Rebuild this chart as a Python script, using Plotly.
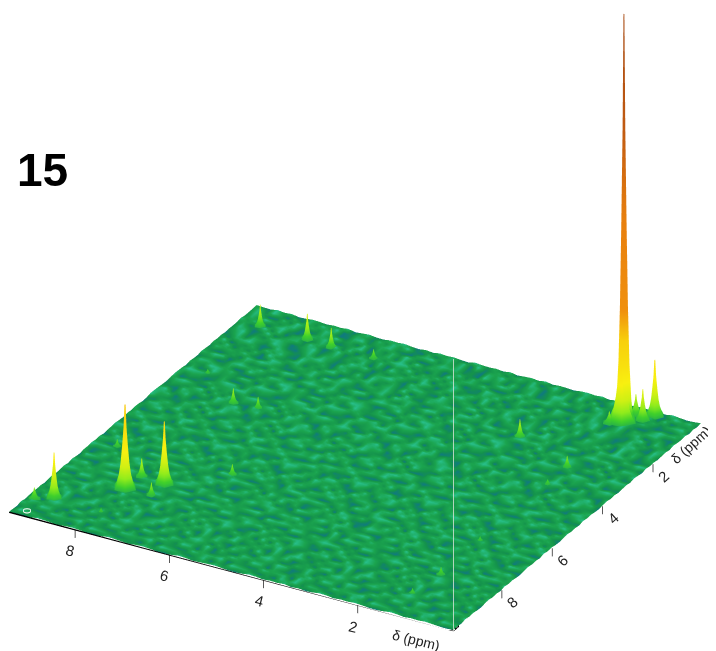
import numpy as np
import plotly.graph_objects as go

# Peak table: position (ppm, ppm), height (% of tallest), base radius (ppm)
peak_x = [9.25, 8.95, 8.00, 7.95, 7.44, 7.45, 6.53, 8.93, 7.90, 7.40, 8.95, 7.94, 7.40, 6.50, 8.88,
          2.64, 1.29, 1.27, 1.27, 1.25, 1.34, 7.92, 1.31, 1.30, 1.47, 1.20, 0.99, 0.88]
peak_y = [9.20, 8.98, 7.94, 7.37, 7.94, 7.41, 6.43, 6.51, 3.83, 3.78, 0.80, 0.82, 0.88, 0.88, 3.01,
          2.29, 2.94, 3.75, 6.43, 8.02, 8.98, 9.04, 0.74, 0.67, 0.93, 0.38, 0.50, 0.23]
peak_h = [2.7, 11.1, 20.5, 4.4, 3.0, 15.3, 2.5, 1.7, 3.5, 2.7, 5.2, 6.2, 4.7, 2.2, 1.0,
          4.2, 2.7, 1.2, 1.0, 1.7, 1.2, 1.0, 19.3, 100.0, 2.7, 4.9, 7.4, 13.6]
peak_r = [0.13, 0.17, 0.23, 0.13, 0.11, 0.20, 0.11, 0.09, 0.11, 0.10, 0.12, 0.13, 0.12, 0.10, 0.08,
          0.12, 0.11, 0.09, 0.08, 0.10, 0.09, 0.07, 0.30, 0.20, 0.14, 0.15, 0.16, 0.19]

# Cross-section of a peak: height fraction at each fraction of its base radius
profile_r = [0.05, 0.14, 0.28, 0.42, 0.58, 0.78, 1.0]
profile_h = [1.0, 0.72, 0.48, 0.28, 0.14, 0.05, 0.0]
# Angles of the faceted cross-section (degrees)
facet_deg = [0, 58, 118, 181, 239, 301, 360]

tick_vals = [2, 4, 6, 8]
tick_text = ["2", "4", "6", "8"]
axis_title = "δ (ppm)"
panel_label = "15"
x_range = [-0.03, 9.40]
y_range = [0.10, 9.92]
z_range = [-8, 100]

# Speckled floor heights (tenths of a height unit per digit), estimated by eye
floor_rows = [
"7204918365027194860351927408163590274816039571284093615720849136",
"1859302764918305726194083752641908375160294837156209483716059284",
"6340817259364081927350681429570318462975013864297105836492710583",
"0975264183705926418930752816490327685104937260815394720186359472",
"8412037596128406395721840695137284056392817450963128574039612748",
"3769510482937561024876395102847639150428973615082947316508294163",
"5028746193058274691305827469130582746193508267419305827641930582",
"9163085274196380572941630857214936085724916083527419630587241963",
"2480961357284906135278406193752840691375240869315728401693572840",
"7615382049716532804916753280497163258049761325804976135820497615",
"4902875136409278516304928715634902785163490827516349028571634092",
"1836490725813640927518634097215863409275186430972518634907251836",
"6517290384651729038465172903486571290384651792038465179203846571",
"3204796815320749681532074698135204769185302476918530247968153024",
"8957123640895173264085971326408951723640895172364089571326408957",
"0431586972043158697204315869270413586972041385697204138569720431",
"5782914036578291403657829140635782941036578249130657824910635782",
"9346071258934607125893460712589346017258934610275893461027589346",
"2160857349216085734921608537492160875349216078354921607835492160",
"7895302164789530216478950321647895320164789530162478953016247895",
"4537168920453716892045376189204537186920453718962045371896204537",
"1208946573120894657312084965731208964573120896547312089654731208",
"6974135082697413508269714350826974153082697415380269741538026974",
"3451802796345180279634510827963451820796345182709634518270963451",
"8023679145802367914580263791458023697145802369174580236917458023",
"5196427308519642730851694273085196472308519647320851964732085196",
"0768153924076815392407861539240768135924076813952407681395240768",
"2349568071234956807123945680712349586071234958067123495806712349",
"7512940863751294086375124908637512904863751290846375129084637512",
"4870216395487021639548720163954870261395487026319548702631954870",
"9635784120963578412096537841209635748120963574182096357418209635",
"1207359846120735984612037598461207395846120739854612073985461207",
"6483102957648310295764381029576483120957648312905764831290576483",
"3956847201395684720139586472013956874201395687240139568724013956",
"8021593764802159376480251937648021539764802153796480215379648021",
"5714026389571402638957410263895714062389571406328957140632895714",
"0398265147039826514703928651470398256147039825164703982516470398",
"2645971830264597183026495718302645917830264591873026459187302645",
"7183604592718360459271386045927183640592718364509271836450927183",
"4920357618492035761849023576184920375618492037651849203765184920",
"9567182034956718203495761820349567128034956712083495671208349567",
"1034869275103486927510384692751034896275103489267510348926751034",
"6879230451687923045168972304516879203451687920435168792043516879",
"3215746908321574690832517469083215764908321576940832157694083215",
"8406129573840612957384601295738406192573840619527384061952738406",
"5790381642579038164257930816425790318642579031684257903168425790",
"0123578496012357849601325784960123587496012358479601235847960123",
"2968417035296841703529864170352968471035296847013529684701352968",
"7351092864735109286473150928647351029864735102896473510289647351",
"4687930125468793012546893701254687903125468790132546879013254687",
"9014265738901426573890412657389014256738901425763890142576389014",
"1572896340157289634015278963401572869340157286394015728639401572",
"6239041587623904158762930415876239014587623901548762390154876239",
"3845702691384570269138547026913845720691384572609138457260913845",
"8190673254819067325481096732548190637254819063275481906327548190",
"5726418309572641830957624183095726481309572648310957264831095726",
"0463159728046315972804361597280463195728046319752804631975280463",
"2917530846291753084629715308462917503846291750864629175086462917",
"7034862159703486215970384621597034826159703482165970348216597034",
"4681207935468120793546182079354681270935468127903546812790354681",
"9258413607925841360792854136079258431607925843061792584306179258",
"1340976582134097658213490765821340967582134096578213409657821340",
"6792580413679258041367295804136792508413679250431367925043136792",
"3015846279301584627930518462793015864279301586247930158624793015",
]

floor_colors = [[0.0, "#0f7a80"], [0.3, "#14924c"], [0.6, "#1ba44e"], [1.0, "#28c08c"]]
peak_colors = [
    [0.00, "#1fa552"], [0.10, "#3fd02c"], [0.17, "#90ec1c"], [0.235, "#cff014"],
    [0.30, "#f8f010"], [0.44, "#f8d00c"], [0.52, "#f0900e"], [0.70, "#e8800e"],
    [0.85, "#c05a12"], [1.00, "#a84c14"],
]
lighting = dict(ambient=1.0, diffuse=0.2, specular=0.0, roughness=0.9, fresnel=0.0)
light_pos = dict(x=-300, y=900, z=700)

fig = go.Figure()

floor_z = np.array([[int(c) * 0.04 for c in row] for row in floor_rows])
floor_x = np.linspace(x_range[0], x_range[1], floor_z.shape[1])
floor_y = np.linspace(y_range[0], y_range[1], floor_z.shape[0])
fig.add_trace(go.Surface(x=floor_x, y=floor_y, z=floor_z, surfacecolor=floor_z,
                         colorscale=floor_colors, cmin=0, cmax=0.36, showscale=False,
                         lighting=lighting, lightposition=light_pos, hoverinfo="skip"))

ang = np.radians(facet_deg)
rad = np.array(profile_r)
frac = np.array(profile_h)
for px, py, ph, pr in zip(peak_x, peak_y, peak_h, peak_r):
    xs = px + pr * np.outer(rad, np.cos(ang))
    ys = py + pr * np.outer(rad, np.sin(ang))
    zs = 0.1 + ph * np.outer(frac, np.ones(len(ang)))
    fig.add_trace(go.Surface(x=xs, y=ys, z=zs, surfacecolor=np.sqrt(zs / 100), colorscale=peak_colors,
                             cmin=0, cmax=1, showscale=False, lighting=lighting,
                             lightposition=light_pos, hoverinfo="skip"))

def line3d(xs, ys, zs, color, width):
    fig.add_trace(go.Scatter3d(x=xs, y=ys, z=zs, mode="lines",
                               line=dict(color=color, width=width),
                               hoverinfo="skip", showlegend=False))

# Floor edges
line3d(x_range, [y_range[1]] * 2, [0, 0], "#000000", 3)
line3d([x_range[0]] * 2, y_range, [0, 0], "#000000", 3)
# Vertical corner line
line3d([x_range[0]] * 2, [y_range[1]] * 2, [0, 67], "#e4e8e0", 1.5)

# Tick marks and labels
annots = []
for v, t in zip(tick_vals, tick_text):
    line3d([v, v], [y_range[1]] * 2, [0, -2], "#222222", 1.5)
    line3d([x_range[0]] * 2, [v, v], [0, -2], "#222222", 1.5)
    annots.append(dict(x=v, y=y_range[1], z=0, text=t, showarrow=False, textangle=14,
                       xshift=-5, yshift=-21, font=dict(family="Liberation Sans", size=15, color="#222")))
    annots.append(dict(x=x_range[0], y=v, z=0, text=t, showarrow=False, textangle=-42,
                       xshift=10, yshift=-12, font=dict(family="Liberation Sans", size=15, color="#222")))
annots.append(dict(x=0.9, y=y_range[1], z=0, text=axis_title, showarrow=False, textangle=14,
                   xshift=6, yshift=-21, font=dict(family="Liberation Sans", size=14, color="#222")))
annots.append(dict(x=x_range[0], y=0.9, z=0, text=axis_title, showarrow=False, textangle=-42,
                   xshift=10, yshift=-4, font=dict(family="Liberation Sans", size=14, color="#222")))
annots.append(dict(x=9.09, y=9.78, z=0.5, text="0", showarrow=False, textangle=90,
                   font=dict(family="Liberation Sans", size=11, color="#ffffff")))

hidden = dict(visible=False)
eye_dir = np.array([-0.473, 0.794, 0.381])
eye_len = 1.6
fig.update_layout(
    width=716, height=651, margin=dict(l=0, r=0, t=0, b=0),
    paper_bgcolor="white", showlegend=False,
    scene=dict(
        domain=dict(x=[0, 1], y=[0, 1]),
        xaxis=dict(hidden, range=x_range),
        yaxis=dict(hidden, range=y_range),
        zaxis=dict(hidden, range=z_range),
        aspectmode="manual",
        aspectratio=dict(x=1.568, y=1.545, z=1.525),
        camera=dict(projection=dict(type="orthographic"),
                    eye=dict(x=eye_dir[0] * eye_len, y=eye_dir[1] * eye_len, z=eye_dir[2] * eye_len),
                    center=dict(x=-0.0295, y=-0.0161, z=-0.18),
                    up=dict(x=0, y=0, z=1)),
        annotations=annots,
    ),
    annotations=[dict(xref="paper", yref="paper", x=34 / 716, y=1 - 162 / 651, text="<b>" + panel_label + "</b>",
                      showarrow=False, font=dict(family="Liberation Sans", size=46, color="#000000"),
                      xanchor="center", yanchor="middle")],
)
fig.write_html("out.html")
